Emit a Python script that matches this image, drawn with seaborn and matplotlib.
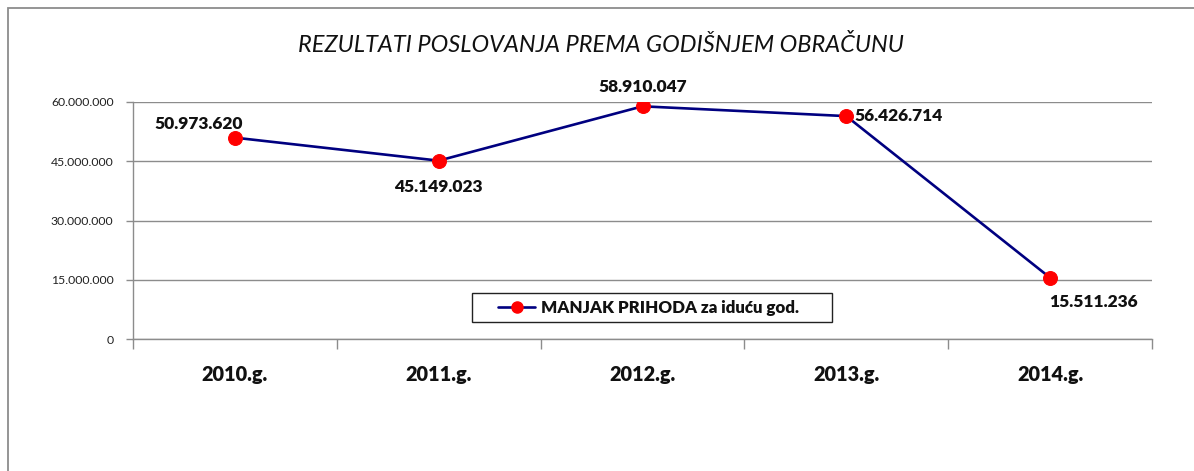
import matplotlib
matplotlib.use("Agg")
import matplotlib.pyplot as plt
from matplotlib.patches import Rectangle
from matplotlib.lines import Line2D
from matplotlib.ticker import FuncFormatter, FixedLocator, FixedFormatter
import seaborn as sns
import pandas as pd

# Chart data
years = ["2010.g.", "2011.g.", "2012.g.", "2013.g.", "2014.g."]
values = [50973620, 45149023, 58910047, 56426714, 15511236]
value_labels = ["50.973.620", "45.149.023", "58.910.047", "56.426.714", "15.511.236"]
y_ticks = [0, 15000000, 30000000, 45000000, 60000000]
series_name = "MANJAK PRIHODA za iduću god."
title = "REZULTATI POSLOVANJA PREMA GODIŠNJEM OBRAČUNU"

sns.set_style("white")
plt.rcParams["font.family"] = ["Lato", "DejaVu Sans"]

W, H = 1194, 471
fig = plt.figure(figsize=(W / 100, H / 100), dpi=100)

# outer chart frame
fig.add_artist(Rectangle((8 / W, -0.05), 1.2, 1 - 8 / H + 0.05, transform=fig.transFigure,
                         fill=False, edgecolor="#8c8c8c", linewidth=1.3))

left, right, top, bottom = 133, 1152, 102, 339
ax = fig.add_axes([left / W, 1 - bottom / H, (right - left) / W, (bottom - top) / H])


def ax_x(px):
    return (px - left) / (right - left)


def ax_y(py):
    return (bottom - py) / (bottom - top)


line_color = "#000080"
df = pd.DataFrame({"pos": range(len(years)), "value": values})
sns.lineplot(data=df, x="pos", y="value", ax=ax, color=line_color, linewidth=1.9,
             marker="o", markersize=10, markerfacecolor="red", markeredgecolor="red",
             zorder=3)

ax.set_xlim(-0.5, len(years) - 0.5)
ax.set_ylim(0, 60000000)
ax.set_xlabel("")
ax.set_ylabel("")

ax.yaxis.set_major_locator(FixedLocator(y_ticks))
ax.yaxis.set_major_formatter(FuncFormatter(lambda v, p: f"{int(v):,}".replace(",", ".")))
ax.grid(axis="y", color="#8c8c8c", linewidth=1.0)
ax.tick_params(axis="y", which="major", length=5, width=1, color="#8c8c8c",
               labelsize=8.8, labelcolor="#222222", pad=9, left=True)

# category names sit between boundary ticks
ax.xaxis.set_major_locator(FixedLocator(list(range(len(years)))))
ax.xaxis.set_major_formatter(FixedFormatter(years))
ax.xaxis.set_minor_locator(FixedLocator([i - 0.5 for i in range(len(years) + 1)]))
ax.tick_params(axis="x", which="major", length=0, pad=19)
ax.tick_params(axis="x", which="minor", length=7, width=1, color="#8c8c8c", bottom=True)

for side in ["top", "right"]:
    ax.spines[side].set_visible(False)
for side in ["left", "bottom"]:
    ax.spines[side].set_color("#8c8c8c")
    ax.spines[side].set_linewidth(1.0)

# value labels next to each point
offsets = [(-36, 14, "center"), (0, -26, "center"), (0, 19, "center"),
           (8, 0, "left"), (43, -24, "center")]
for i, (v, lab) in enumerate(zip(values, value_labels)):
    dx, dy, ha = offsets[i]
    ax.annotate(lab, (i, v), xytext=(dx, dy), textcoords="offset pixels",
                ha=ha, va="center", fontsize=12.5, fontweight="heavy", color="#111111")

fig.text(601 / W, 1 - 45 / H, title, ha="center", va="center",
         fontsize=17, fontstyle="italic", color="#111111")

# legend with a wide box around it
ax.add_patch(Rectangle((ax_x(472), ax_y(322)), ax_x(832) - ax_x(472), ax_y(293) - ax_y(322),
                       transform=ax.transAxes, facecolor="white", edgecolor="#222222",
                       linewidth=1.0, zorder=4))
handle = Line2D([], [], color=line_color, linewidth=1.9, marker="o", markersize=8,
                markerfacecolor="red", markeredgecolor="red")
leg = ax.legend([handle], [series_name], loc="center left",
                bbox_to_anchor=(ax_x(498), ax_y(307.5)),
                frameon=False, prop={"size": 12.2, "weight": "heavy"},
                handlelength=2.2, borderpad=0, handletextpad=0.35, borderaxespad=0)
leg.set_zorder(5)
for t in leg.get_texts():
    t.set_color("#111111")

fig.canvas.draw()
for t in ax.get_xticklabels():
    t.set_fontsize(14.3)
    t.set_fontweight("heavy")
    t.set_color("#111111")

fig.savefig("out.png", dpi=100)
